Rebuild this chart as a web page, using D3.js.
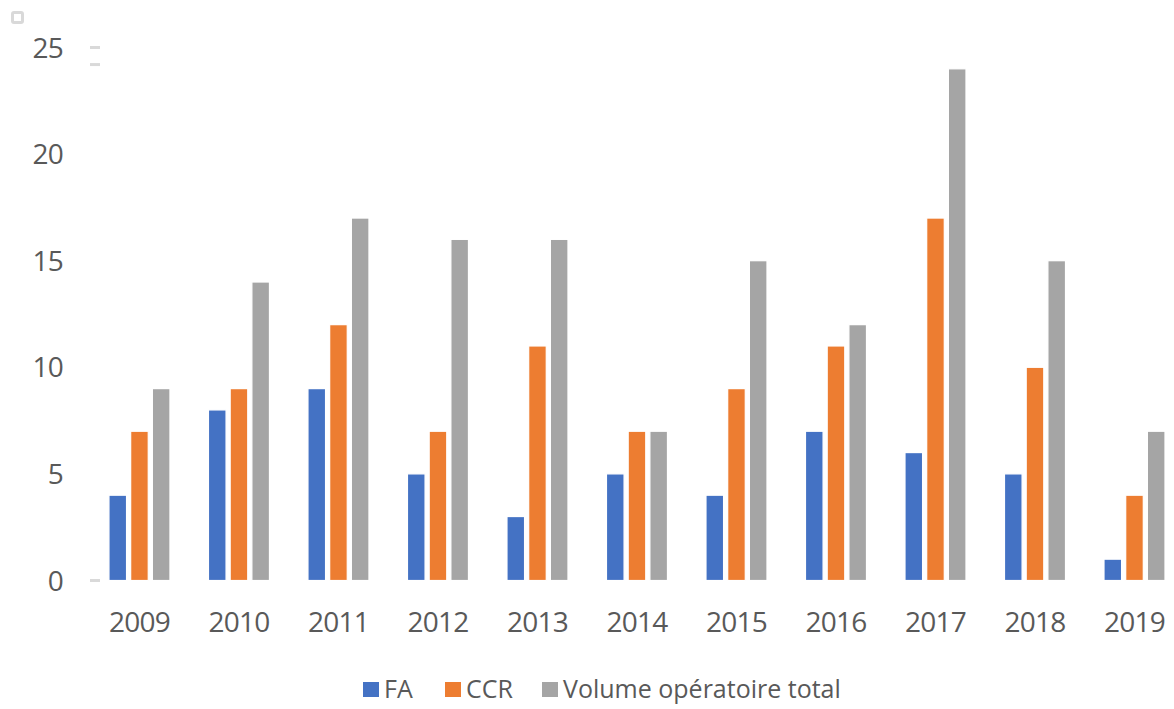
<!DOCTYPE html>
<html>
<head>
<meta charset="utf-8">
<title>FA / CCR / Volume opératoire</title>
<script src="https://d3js.org/d3.v7.min.js"></script>
<style>
  html, body { margin: 0; padding: 0; background: #fff; }
  svg { display: block; }
  text { font-family: "Open Sans", "Noto Sans", sans-serif; fill: #595959; }
  .tick-label { font-size: 28px; letter-spacing: -0.8px; }
  .legend-label { font-size: 25px; letter-spacing: 0px; }
  .bar { stroke: #fff; stroke-width: 1.2px; }
</style>
</head>
<body>
<svg width="1174" height="709"></svg>
<script>
const years = ["2009","2010","2011","2012","2013","2014","2015","2016","2017","2018","2019"];
const seriesNames = ["FA", "CCR", "Volume opératoire total"];
const faValues  = [4, 8, 9, 5, 3, 5, 4, 7, 6, 5, 1];
const ccrValues = [7, 9, 12, 7, 11, 7, 9, 11, 17, 10, 4];
const volValues = [9, 14, 17, 16, 16, 7, 15, 12, 24, 15, 7];
const yTicks = [0, 5, 10, 15, 20, 25];
const colors = ["#4472C4", "#ED7D31", "#A5A5A5"];

const svg = d3.select("svg");

let data = years.map((yr, i) => ({
  year: yr,
  values: [faValues[i], ccrValues[i], volValues[i]]
}));

let x = d3.scaleBand()
  .domain(years)
  .range([90.25, 1183.7])
  .paddingInner(0.387)
  .paddingOuter(0.188);

let xInner = d3.scaleBand()
  .domain(seriesNames)
  .range([0, x.bandwidth()])
  .paddingInner(0.19);

let y = d3.scaleLinear()
  .domain([0, 25])
  .range([580.5, 47.5]);

let color = d3.scaleOrdinal().domain(seriesNames).range(colors);

// small corner marker
svg.append("rect")
  .attr("x", 12.5).attr("y", 12.5)
  .attr("width", 10).attr("height", 10)
  .attr("rx", 1.5)
  .attr("fill", "#fff")
  .attr("stroke", "#d9d9d9")
  .attr("stroke-width", 3);

// faint tick stubs near the value axis
svg.selectAll("line.stub")
  .data([25, 24.2, 0])
  .join("line")
  .attr("class", "stub")
  .attr("x1", 90).attr("x2", 100)
  .attr("y1", d => y(d)).attr("y2", d => y(d))
  .attr("stroke", "#d9d9d9")
  .attr("stroke-width", 3);

// y labels
svg.selectAll("text.ylab")
  .data(yTicks)
  .join("text")
  .attr("class", "tick-label ylab")
  .attr("x", 63)
  .attr("y", d => y(d))
  .attr("dy", "0.36em")
  .attr("text-anchor", "end")
  .text(d => d);

// bars
let groups = svg.selectAll("g.grp")
  .data(data)
  .join("g")
  .attr("class", "grp")
  .attr("transform", d => `translate(${x(d.year)},0)`);

groups.selectAll("rect")
  .data(d => d.values.map((v, k) => ({ name: seriesNames[k], value: v })))
  .join("rect")
  .attr("class", "bar")
  .attr("x", d => xInner(d.name))
  .attr("width", xInner.bandwidth())
  .attr("y", d => y(d.value))
  .attr("height", d => y(0) - y(d.value))
  .attr("fill", d => color(d.name));

// x labels
svg.selectAll("text.xlab")
  .data(years)
  .join("text")
  .attr("class", "tick-label xlab")
  .attr("x", d => x(d) + x.bandwidth() / 2)
  .attr("y", 632)
  .attr("text-anchor", "middle")
  .text(d => d);

// legend
let legendX = [363, 445, 542];
let legend = svg.selectAll("g.legend")
  .data(seriesNames)
  .join("g")
  .attr("class", "legend")
  .attr("transform", (d, i) => `translate(${legendX[i]},682)`);

legend.append("rect")
  .attr("width", 16).attr("height", 15)
  .attr("fill", d => color(d));

legend.append("text")
  .attr("class", "legend-label")
  .attr("x", 21)
  .attr("y", 16)
  .text(d => d);
</script>
</body>
</html>
